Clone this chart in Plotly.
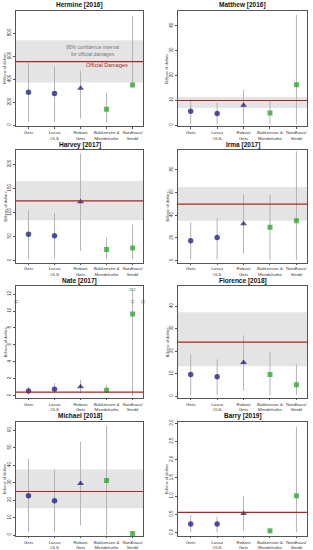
import plotly.graph_objects as go

# ---------------- data ----------------
models = ["Gets", "Lasso<br>OLS", "Robust<br>Gets", "Bakkensen &<br>Mendelsohn", "Nordhaus/<br>Strobl"]
storms = ["Hermine [2016]", "Matthew [2016]", "Harvey [2017]", "Irma [2017]",
          "Nate [2017]", "Florence [2018]", "Michael [2018]", "Barry [2019]"]
units = ["Millions of dollars"] + ["Billions of dollars"] * 7

official = [551, 9.9, 124, 49.7, 0.42, 24.0, 24.9, 0.55]
ci_low = [371, 6.9, 84, 35.1, None, 13.3, 15.3, None]
ci_high = [737, 11.3, 165, 64.6, None, 37.3, 37.4, None]

hermine_est = [286, 274, 320, 137, 349]
hermine_lo = [29, 29, 57, 23, 335]
hermine_hi = [543, 514, 470, 280, 951]

matthew_est = [5.6, 4.7, 8.0, 4.9, 16.3]
matthew_lo = [0.4, 0.4, 0.4, 0.4, 0.4]
matthew_hi = [10.4, 9.1, 14.1, 9.7, 44.4]

harvey_est = [54.7, 51.4, 122, 23, 26]
harvey_lo = [3, 3, 20, 3, 3]
harvey_hi = [105, 99, 222, 48, 75]

irma_est = [17.4, 20.3, 32.3, 29.4, 35.1]
irma_lo = [1, 1, 6, 0.5, 0.5]
irma_hi = [33.7, 37.4, 58.3, 58.3, 96]

nate_est = [0.57, 0.76, 1.07, 0.65, 9.64]
nate_lo = [0.2, 0.3, 0.3, 0.3, 0.0]
nate_hi = [1.07, 1.5, 1.9, 1.26, 12.7]
nate_cap_label = "11.2"

florence_est = [9.7, 8.7, 15.0, 9.7, 5.1]
florence_lo = [0.5, 0.5, 2.6, 0.5, 0.5]
florence_hi = [18.7, 16.4, 27.0, 19.7, 14.3]

michael_est = [22.4, 19.6, 29.5, 31.2, 0.9]
michael_lo = [1.5, 1.5, 5.6, 0.2, 0.2]
michael_hi = [43.4, 37.4, 53.3, 62.6, 1.5]

barry_est = [0.23, 0.23, 0.52, 0.045, 1.01]
barry_lo = [0.0, 0.0, 0.05, 0.0, 0.0]
barry_hi = [0.48, 0.43, 1.0, 0.09, 2.9]

estimates = [hermine_est, matthew_est, harvey_est, irma_est, nate_est, florence_est, michael_est, barry_est]
lows = [hermine_lo, matthew_lo, harvey_lo, irma_lo, nate_lo, florence_lo, michael_lo, barry_lo]
highs = [hermine_hi, matthew_hi, harvey_hi, irma_hi, nate_hi, florence_hi, michael_hi, barry_hi]

# ---------------- styling / layout ----------------
W, H = 313, 550
NAVY = "#0b0b78"
GREEN = "#1e9a1e"
RED = "#b22222"
BAND = "#e4e4e4"
ERR = "#b4b4b4"
FRAME = "#555555"
FONT = "Arial, Liberation Sans, sans-serif"

symbols = ["circle", "circle", "triangle-up", "square", "square"]
colors = [NAVY, NAVY, NAVY, GREEN, GREEN]
sizes = [5.5, 5.5, 6, 5, 5]

yranges = [[-11, 992], [-0.5, 46], [-4, 229], [-1.7, 97], [-0.25, 12.9],
           [-0.7, 48.7], [-0.6, 64.8], [-0.1, 3.04]]
dticks = [200, 10, 50, 20, 2, 10, 10, 0.5]
tickformats = ["d", "d", "d", "d", "d", "d", "d", ".1f"]

col_px = [(16, 143), (178, 307)]
row_px = [(8, 124), (148, 261), (285, 397), (421, 536)]
xrange_ = [-0.48, 4.4]

fig = go.Figure()
layout = dict(width=W, height=H, margin=dict(l=0, r=0, t=0, b=0),
              paper_bgcolor="white", plot_bgcolor="white", showlegend=False,
              font=dict(family=FONT, color="#222"))
shapes = []
annotations = []

for i, name in enumerate(storms):
    r, c = divmod(i, 2)
    n = i + 1
    xa = "xaxis" if n == 1 else f"xaxis{n}"
    ya = "yaxis" if n == 1 else f"yaxis{n}"
    xr = "x" if n == 1 else f"x{n}"
    yr = "y" if n == 1 else f"y{n}"
    x0p, x1p = col_px[c]
    t_px, b_px = row_px[r]
    xd = [x0p / W, x1p / W]
    yd = [1 - b_px / H, 1 - t_px / H]

    est, lo, hi = estimates[i], lows[i], highs[i]
    fig.add_trace(go.Scatter(
        x=list(range(len(models))), y=est, xaxis=xr, yaxis=yr, mode="markers",
        marker=dict(symbol=symbols, color=colors, size=sizes, line=dict(width=0)),
        error_y=dict(type="data", symmetric=False,
                     array=[h - e for h, e in zip(hi, est)],
                     arrayminus=[e - l for e, l in zip(est, lo)],
                     width=0, thickness=1, color=ERR),
        hoverinfo="skip"))

    layout[xa] = dict(domain=xd, anchor=yr, range=xrange_, tickmode="array",
                      tickvals=list(range(len(models))), ticktext=models,
                      tickangle=0,
                      ticks="outside", ticklen=1.5, tickcolor=FRAME, tickwidth=0.8,
                      tickfont=dict(size=4.4, color="#333"),
                      showline=True, mirror=True, linecolor=FRAME, linewidth=0.8,
                      showgrid=False, zeroline=False, fixedrange=True)
    layout[ya] = dict(domain=yd, anchor=xr, range=yranges[i], dtick=dticks[i], tick0=0,
                      tickformat=tickformats[i], tickangle=-90,
                      ticks="outside", ticklen=2, tickcolor=FRAME, tickwidth=0.8,
                      tickfont=dict(size=4.5, color="#333"),
                      showline=True, mirror=True, linecolor=FRAME, linewidth=0.8,
                      showgrid=False, zeroline=False, fixedrange=True)

    if ci_low[i] is not None:
        shapes.append(dict(type="rect", xref=f"{xr} domain", yref=yr, x0=0, x1=1,
                           y0=ci_low[i], y1=ci_high[i], fillcolor=BAND,
                           line=dict(width=0), layer="below"))
    shapes.append(dict(type="line", xref=f"{xr} domain", yref=yr, x0=0, x1=1,
                       y0=official[i], y1=official[i], line=dict(color=RED, width=1.2),
                       layer="above"))

    # title (sits just above the plot frame)
    annotations.append(dict(text=f"<b>{name}</b>", xref="paper", yref="paper",
                            x=(xd[0] + xd[1]) / 2, y=1 - (t_px - 0.5) / H,
                            xanchor="center", yanchor="bottom", showarrow=False,
                            borderpad=0, font=dict(size=6.5, color="#111")))
    # y-axis title
    annotations.append(dict(text=units[i], xref="paper", yref="paper",
                            x=(x0p - 11) / W, y=(yd[0] + yd[1]) / 2, textangle=-90,
                            xanchor="center", yanchor="middle", showarrow=False,
                            font=dict(size=4, color="#333")))

# Hermine annotations
annotations.append(dict(text="95% confidence interval<br>for official damages",
                        xref="x", yref="y", x=2.45, y=(ci_low[0] + ci_high[0]) / 2 + 95,
                        showarrow=False, font=dict(size=5, color="#777"),
                        xanchor="center", yanchor="middle"))
annotations.append(dict(text="Official Damages", xref="x", yref="y", x=3.0,
                        y=official[0] - 30, showarrow=False,
                        font=dict(size=5.5, color=RED), xanchor="center", yanchor="middle"))

# Nate: truncated upper bound label and break marks
annotations.append(dict(text=nate_cap_label, xref="x5", yref="y5", x=4,
                        y=yranges[4][1], yanchor="top", showarrow=False,
                        font=dict(size=3.5, color="#444")))
brk = 11.1
for xref, xa0, xa1 in [("x5 domain", -0.015, 0.015), ("x5 domain", 0.985, 1.015),
                       ("x5", 3.95, 4.05)]:
    for dy in (-0.12, 0.12):
        shapes.append(dict(type="line", xref=xref, yref="y5", x0=xa0, x1=xa1,
                           y0=brk + dy, y1=brk + dy,
                           line=dict(color="#666", width=0.6), layer="above"))

layout["shapes"] = shapes
layout["annotations"] = annotations
fig.update_layout(**layout)
fig.write_html("out.html", config={"displayModeBar": False},
               post_script="document.body.style.margin='0';document.body.style.padding='0';")
